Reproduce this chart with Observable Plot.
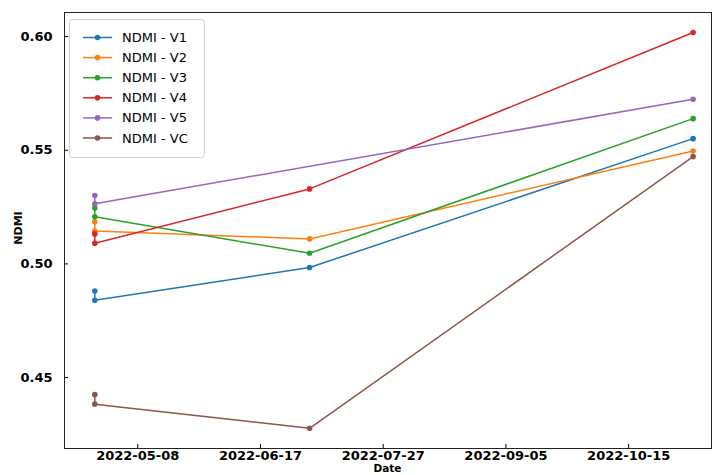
<!DOCTYPE html>
<html>
<head>
<meta charset="utf-8">
<script src="https://cdn.jsdelivr.net/npm/d3@7"></script>
<script src="https://cdn.jsdelivr.net/npm/@observablehq/plot@0.6"></script>
<style>
  html, body { margin: 0; padding: 0; background: #fff; }
  svg { display: block; }
</style>
</head>
<body>
<div id="chart"></div>
<script>
// ---- Data ----
const dates = ["2022-04-24", "2022-04-24", "2022-07-03", "2022-11-05"];
const seriesNames = ["NDMI - V1", "NDMI - V2", "NDMI - V3", "NDMI - V4", "NDMI - V5", "NDMI - VC"];
const v1 = [0.4881, 0.4840, 0.4984, 0.5551];
const v2 = [0.5185, 0.5145, 0.5110, 0.5497];
const v3 = [0.5246, 0.5207, 0.5047, 0.5639];
const v4 = [0.5132, 0.5091, 0.5330, 0.6018];
const v5 = [0.5301, 0.5265, null, 0.5724];
const vc = [0.4425, 0.4383, 0.4277, 0.5472];
const seriesValues = [v1, v2, v3, v4, v5, vc];
const colors = ["#1f77b4", "#ff7f0e", "#2ca02c", "#d62728", "#9467bd", "#8c564b"];
const xTickLabels = ["2022-05-08", "2022-06-17", "2022-07-27", "2022-09-05", "2022-10-15"];
const yTicks = [0.45, 0.50, 0.55, 0.60];
const xDomain = ["2022-04-14T03:00:00Z", "2022-11-11T00:00:00Z"];
const yDomain = [0.4188, 0.6106];

// ---- Table ----
const table = [];
seriesNames.forEach((name, i) => {
  seriesValues[i].forEach((v, j) => {
    if (v != null) table.push({series: name, date: new Date(dates[j] + "T00:00:00Z"), value: v});
  });
});

const font = "DejaVu Sans";
const W = 712, H = 475;
const mL = 64, mR = 1, mT = 12, mB = 27;

const chart = Plot.plot({
  width: W,
  height: H,
  marginLeft: mL,
  marginRight: mR,
  marginTop: mT,
  marginBottom: mB,
  style: {fontFamily: font, fontSize: "13px", background: "#fff", color: "#000"},
  x: {type: "utc", domain: xDomain.map(d => new Date(d))},
  y: {domain: yDomain},
  color: {domain: seriesNames, range: colors},
  marks: [
    Plot.axisX(xTickLabels.map(d => new Date(d + "T00:00:00Z")), {
      tickSize: -4, tickPadding: 6.5, tickFormat: d3.utcFormat("%Y-%m-%d"),
      fontWeight: "bold", fontSize: 13, label: null, stroke: "#000", fill: "#000"
    }),
    Plot.axisY(yTicks, {
      tickSize: -4, tickPadding: 16, tickFormat: d3.format(".2f"),
      fontWeight: "bold", fontSize: 13, label: null, stroke: "#000", fill: "#000"
    }),
    Plot.line(table, {x: "date", y: "value", z: "series", stroke: "series", strokeWidth: 1.5}),
    Plot.dot(table, {x: "date", y: "value", fill: "series", r: 2.8}),
    Plot.frame({stroke: "#222", strokeWidth: 1})
  ]
});

const svg = d3.select(chart);

// Axis titles
svg.append("text")
  .attr("x", (mL + W - mR) / 2).attr("y", 472.3)
  .attr("text-anchor", "middle")
  .attr("font-family", font).attr("font-size", 10.5).attr("font-weight", "bold")
  .attr("fill", "#000")
  .text("Date");
svg.append("text")
  .attr("transform", `translate(18, ${(mT + H - mB) / 2 - 2}) rotate(-90)`)
  .attr("text-anchor", "middle").attr("dominant-baseline", "central")
  .attr("font-family", font).attr("font-size", 11).attr("font-weight", "bold")
  .attr("fill", "#000")
  .text("NDMI");

// Legend
const lg = svg.append("g");
lg.append("rect")
  .attr("x", 69.5).attr("y", 19.5).attr("width", 135).attr("height", 138)
  .attr("rx", 3).attr("fill", "#fff").attr("fill-opacity", 0.8)
  .attr("stroke", "#d0d0d0").attr("stroke-width", 1);
seriesNames.forEach((name, i) => {
  const y = 37.5 + i * 20.1;
  lg.append("line").attr("x1", 83).attr("x2", 112).attr("y1", y).attr("y2", y)
    .attr("stroke", colors[i]).attr("stroke-width", 1.5);
  lg.append("circle").attr("cx", 97.5).attr("cy", y).attr("r", 2.8).attr("fill", colors[i]);
  lg.append("text").attr("x", 122).attr("y", y)
    .attr("text-anchor", "start")
    .attr("dominant-baseline", "central")
    .attr("font-family", font).attr("font-size", 13).attr("fill", "#000")
    .text(name);
});

document.getElementById("chart").appendChild(chart);
</script>
</body>
</html>
